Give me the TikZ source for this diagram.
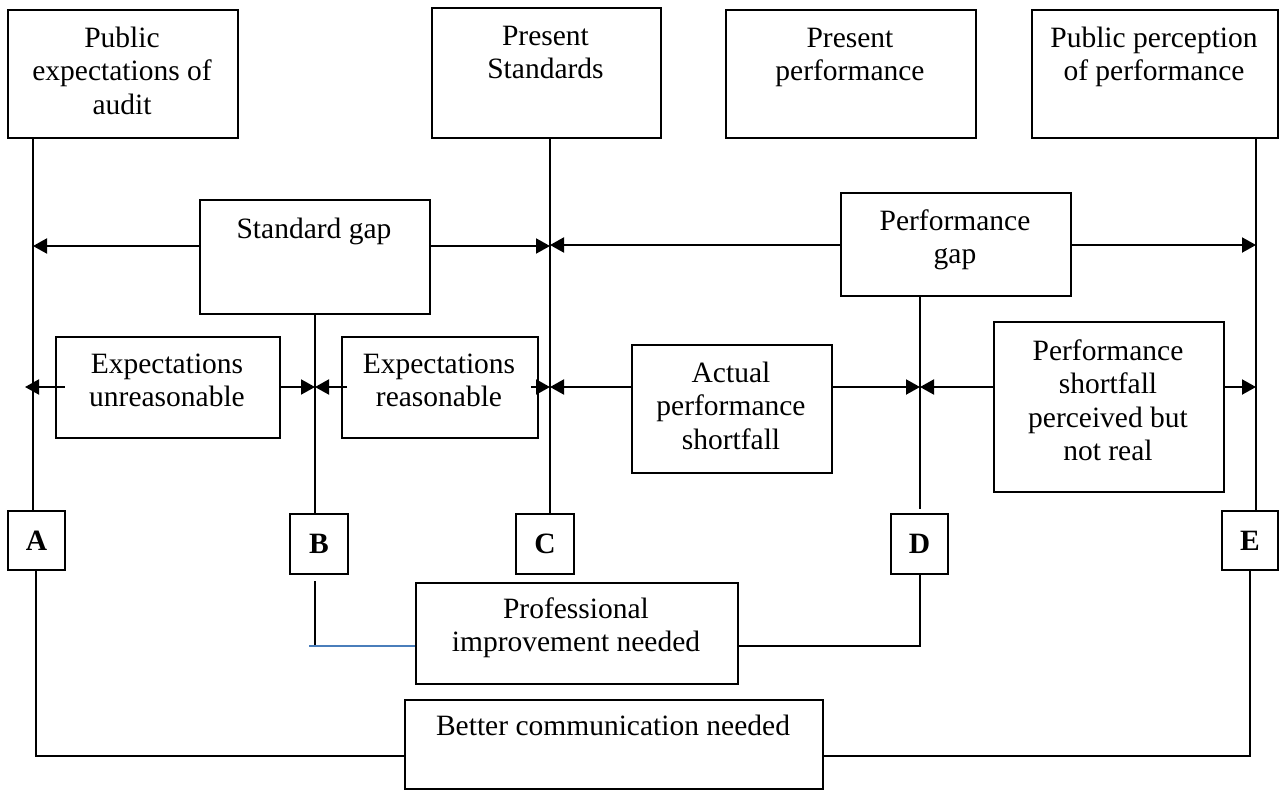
\documentclass[tikz,border=0pt]{standalone}
\usepackage{fontspec}
\setmainfont{Liberation Serif}
\usetikzlibrary{arrows.meta}
\newcommand{\boxlines}[1]{\begin{tabular}[t]{@{}c@{}}#1\end{tabular}}
\definecolor{linkblue}{HTML}{4A7EBB}
\begin{document}
\begin{tikzpicture}[x=1pt,y=-1pt,
  frame/.style={draw, line width=2pt, inner sep=0pt, anchor=north west},
  caption/.style={anchor=base, inner sep=0pt, font=\fontsize{29.5}{33.5}\selectfont},
  tag/.style={frame, font=\fontsize{29.5}{33.5}\selectfont\bfseries},
  spine/.style={line width=2pt},
  rib/.style={line width=1.6pt},
  gap/.style={line width=2pt, -{Triangle[length=14pt,width=15pt]}},
  blueline/.style={line width=1.8pt, draw=linkblue},
]
\useasboundingbox (0,0) rectangle (1280,790);

% top row of boxes
\node[frame, minimum width=230pt, minimum height=128pt] (pub)  at (7,9) {};
\node[frame, minimum width=229pt, minimum height=130pt] (std)  at (431,7) {};
\node[frame, minimum width=250pt, minimum height=128pt] (perf) at (725,9) {};
\node[frame, minimum width=246pt, minimum height=128pt] (perc) at (1031,9) {};
% gap boxes
\node[frame, minimum width=230pt, minimum height=114pt] (sgap) at (199,199) {};
\node[frame, minimum width=230pt, minimum height=103pt] (pgap) at (840,192) {};
% component boxes
\node[frame, minimum width=224pt, minimum height=101pt] (unr) at (55,336) {};
\node[frame, minimum width=196pt, minimum height=101pt] (rea) at (341,336) {};
\node[frame, minimum width=200pt, minimum height=128pt] (act) at (631,344) {};
\node[frame, minimum width=230pt, minimum height=170pt] (psp) at (993,321) {};
% remedy boxes
\node[frame, minimum width=322pt, minimum height=101pt] (prof) at (415,582) {};
\node[frame, minimum width=418pt, minimum height=89pt]  (comm) at (404,699) {};

% captions
\node[caption] (pub-t)  at (122,47)   {\boxlines{Public\\expectations of\\audit}};
\node[caption] (std-t)  at (545.5,45) {\boxlines{Present\\Standards}};
\node[caption] (perf-t) at (850,47)   {\boxlines{Present\\performance}};
\node[caption] (perc-t) at (1154,47)  {\boxlines{Public perception\\of performance}};
\node[caption] (sgap-t) at (314,238)  {Standard gap};
\node[caption] (pgap-t) at (955,230)  {\boxlines{Performance\\gap}};
\node[caption] (unr-t)  at (167,373)  {\boxlines{Expectations\\unreasonable}};
\node[caption] (rea-t)  at (439,373)  {\boxlines{Expectations\\reasonable}};
\node[caption] (act-t)  at (731,382)  {\boxlines{Actual\\performance\\shortfall}};
\node[caption] (psp-t)  at (1108,360) {\boxlines{Performance\\shortfall\\perceived but\\not real}};
\node[caption] (prof-t) at (576,618)  {\boxlines{Professional\\improvement needed}};
\node[caption] (comm-t) at (613,735)  {Better communication needed};

% letter markers
\node[tag, minimum width=57pt, minimum height=59pt] (A) at (7,510)    {A};
\node[tag, minimum width=58pt, minimum height=60pt] (B) at (289,513)  {B};
\node[tag, minimum width=58pt, minimum height=60pt] (C) at (515,513)  {C};
\node[tag, minimum width=57pt, minimum height=60pt] (D) at (890,513)  {D};
\node[tag, minimum width=56pt, minimum height=59pt] (E) at (1221,510) {E};

% guide positions
\coordinate (xA)  at (33,0);
\coordinate (xA2) at (36,0);
\coordinate (xB)  at (315,0);
\coordinate (xC)  at (550,0);
\coordinate (xD)  at (920,0);
\coordinate (xE)  at (1256,0);
\coordinate (xE2) at (1250,0);
\coordinate (yS)  at (0,246);
\coordinate (yP)  at (0,245);
\coordinate (yR)  at (0,387);
\coordinate (yPI) at (0,646);
\coordinate (yBC) at (0,756);
\coordinate (bEnd) at (309,646);

% vertical lines
\draw[spine] (xA |- pub.south) -- (xA |- A.north);
\draw[spine] (xA2 |- A.south) |- (comm.west |- yBC);
\draw[rib] (xB |- sgap.south) -- (xB |- B.north);
\draw[rib] ([yshift=-6pt]xB |- B.south) -- (xB |- yPI);
\draw[blueline] (bEnd) -- (prof.west |- yPI);
\draw[rib] (xC |- std.south) -- (xC |- C.north);
\draw[rib] (xD |- pgap.south) -- ([yshift=4pt]xD |- D.north);
\draw[rib] (xD |- D.south) |- (prof.east |- yPI);
\draw[spine] (xE |- perc.south) -- (xE |- E.north);
\draw[spine] (xE2 |- E.south) |- (comm.east |- yBC);

% gap arrows
\draw[gap] (sgap.west |- yS) -- (xA |- yS);
\draw[gap] (sgap.east |- yS) -- (xC |- yS);
\draw[gap] (pgap.west |- yP) -- (xC |- yP);
\draw[gap] (pgap.east |- yP) -- (xE |- yP);

% component arrows
\draw[gap] ([xshift=9.5pt]unr.west |- yR) -- ([xshift=-8pt]xA |- yR);
\draw[gap] (unr.east |- yR) -- (xB |- yR);
\draw[gap] ([xshift=6pt]rea.west |- yR) -- (xB |- yR);
\draw[gap] ([xshift=-8pt]rea.east |- yR) -- (xC |- yR);
\draw[gap] (act.west |- yR) -- (xC |- yR);
\draw[gap] (act.east |- yR) -- (xD |- yR);
\draw[gap] (psp.west |- yR) -- (xD |- yR);
\draw[gap] (psp.east |- yR) -- (xE |- yR);
\end{tikzpicture}
\end{document}
